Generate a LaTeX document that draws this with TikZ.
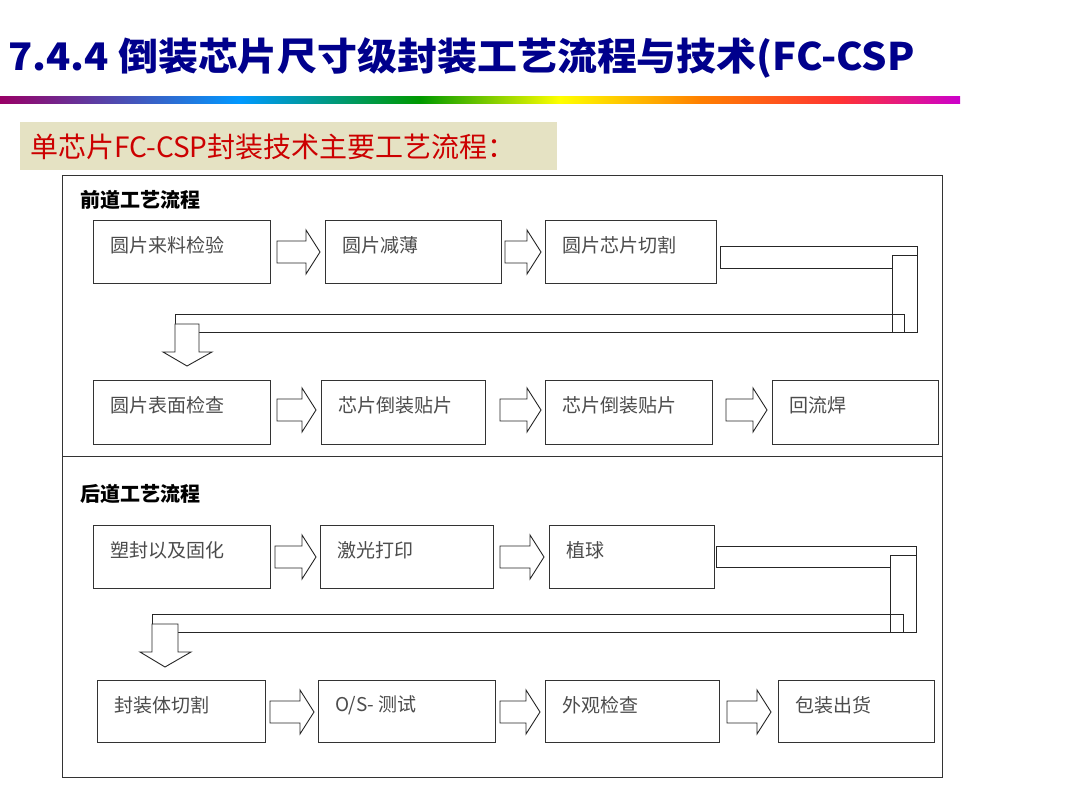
\documentclass[tikz,border=0pt]{standalone}
\usepackage{fontspec}
\setmainfont{Noto Sans CJK SC}
\newfontfamily\cjkserif{Noto Sans CJK SC}
\begin{document}
\begin{tikzpicture}[x=1pt,y=-1pt,
  box/.style={draw=black!80,line width=0.9pt},
  txt/.style={anchor=west,text=black!70,font=\fontsize{19}{19}\selectfont,inner sep=0},
  pipe/.style={draw=black!85,line width=0.9pt,fill=white}]
\useasboundingbox (0,0) rectangle (1080,810);
\fill[white] (0,0) rectangle (1080,810);
\newcommand\barr[3]{\draw[pipe] (#1,#3-11) -- (#2-14,#3-11) -- (#2-14,#3-22) -- (#2,#3) -- (#2-14,#3+22) -- (#2-14,#3+11) -- (#1,#3+11) -- cycle;}
\newcommand\bx[6]{\draw[box] (#1,#3) rectangle (#2,#4); \node[txt] (#6) at (#1+17,#3+25) {#5};}
% title
\node[anchor=west,inner sep=0,text=blue!55!black,font=\fontsize{38}{38}\selectfont\bfseries,xscale=1.05] (title) at (8,58) {7.4.4 倒装芯片尺寸级封装工艺流程与技术(FC-CSP};
\shade[left color=purple!80!blue,right color=cyan!60!blue] (0,97) rectangle (240,104);
\shade[left color=cyan!60!blue,right color=green!60!black] (240,97) rectangle (420,104);
\shade[left color=green!60!black,right color=yellow] (420,97) rectangle (560,104);
\shade[left color=yellow,right color=orange] (560,97) rectangle (700,104);
\shade[left color=orange,right color=red!80] (700,97) rectangle (840,104);
\shade[left color=red!80,right color=magenta!80!black] (840,97) rectangle (960,104);
\fill[orange!20!yellow!15!white!90!black] (20,122) rectangle (557,170);
\node[anchor=west,inner sep=0,text=red!80!black,font=\fontsize{28}{28}\selectfont] (sub) at (30,147) {单芯片FC-CSP封装技术主要工艺流程：};
% frame
\draw[box,line width=1pt] (62,176) rectangle (942,777);
\draw[box,line width=1pt] (62,457) -- (942,457);
\node[anchor=west,inner sep=0,font=\fontsize{20}{20}\selectfont\bfseries] (s1) at (80,200) {前道工艺流程};
\node[anchor=west,inner sep=0,font=\fontsize{20}{20}\selectfont\bfseries] (s2) at (80,494) {后道工艺流程};
% row1
\bx{93}{270}{220}{283}{圆片来料检验}{a1}
\bx{325}{501}{220}{283}{圆片减薄}{a2}
\bx{545}{716}{220}{283}{圆片芯片切割}{a3}
\barr{277}{320}{252}\barr{505}{541}{252}
% pipe 1
\draw[pipe] (720,246) rectangle (917,268);
\draw[pipe] (892,255) rectangle (917,332);
\draw[pipe] (175,314) rectangle (904,332);
\draw[pipe] (892,314) -- (892,332);
\draw[pipe] (175,324) -- (199,324) -- (199,352) -- (212,352) -- (187,366) -- (163,352) -- (175,352) -- cycle;
% row2
\bx{93}{270}{380}{444}{圆片表面检查}{b1}
\bx{321}{485}{380}{444}{芯片倒装贴片}{b2}
\bx{545}{712}{380}{444}{芯片倒装贴片}{b3}
\bx{772}{938}{380}{444}{回流焊}{b4}
\barr{277}{316}{410}\barr{500}{541}{410}\barr{726}{767}{410}
% row3
\bx{93}{270}{525}{588}{塑封以及固化}{c1}
\bx{320}{493}{525}{588}{激光打印}{c2}
\bx{549}{714}{525}{588}{植球}{c3}
\barr{275}{316}{557}\barr{500}{544}{557}
% pipe 2
\draw[pipe] (716,546) rectangle (916,567);
\draw[pipe] (890,555) rectangle (916,632);
\draw[pipe] (152,614) rectangle (903,632);
\draw[pipe] (890,614) -- (890,632);
\draw[pipe] (152,624) -- (178,624) -- (178,652) -- (191,652) -- (165,667) -- (140,652) -- (152,652) -- cycle;
% row4
\bx{97}{265}{680}{742}{封装体切割}{d1}
\bx{318}{495}{680}{742}{O/S- 测试}{d2}
\bx{545}{719}{680}{742}{外观检查}{d3}
\bx{778}{934}{680}{742}{包装出货}{d4}
\barr{270}{314}{712}\barr{500}{540}{712}\barr{727}{771}{712}
\end{tikzpicture}
\end{document}
